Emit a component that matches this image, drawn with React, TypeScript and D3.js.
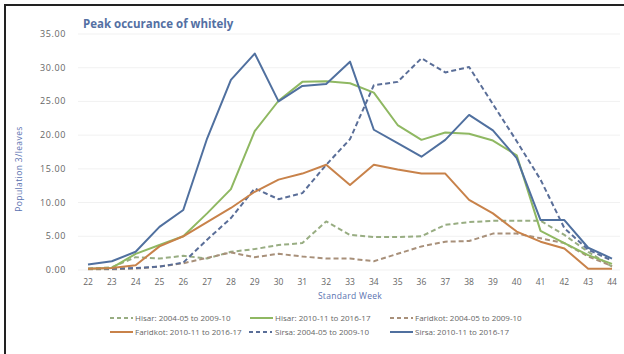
import React from "react";
import * as d3 from "d3";

const weeks = [22,23,24,25,26,27,28,29,30,31,32,33,34,35,36,37,38,39,40,41,42,43,44];
const yTicks = [0,5,10,15,20,25,30,35];

const hisarOld = [0.2,0.4,1.9,1.7,2.1,1.7,2.7,3.1,3.7,4.0,7.2,5.2,4.9,4.9,5.0,6.7,7.1,7.3,7.3,7.3,5.2,2.7,0.5];
const hisarNew = [0.2,0.3,2.4,3.7,5.0,8.4,12.0,20.6,25.1,27.9,28.0,27.7,26.3,21.5,19.3,20.4,20.2,19.2,17.0,5.8,4.0,2.2,0.9];
const faridOld = [0.1,0.1,0.2,0.5,1.0,1.8,2.6,1.9,2.4,2.0,1.7,1.7,1.3,2.4,3.5,4.2,4.3,5.4,5.4,4.7,4.0,2.0,0.6];
const faridNew = [0.2,0.3,0.7,3.5,5.0,7.1,9.2,11.6,13.4,14.3,15.6,12.6,15.6,14.9,14.3,14.3,10.4,8.4,5.7,4.2,3.2,0.2,0.2];
const sirsaOld = [0.2,0.2,0.3,0.5,1.1,4.5,7.7,12.1,10.5,11.4,15.6,19.4,27.4,27.9,31.4,29.3,30.1,24.6,19.1,13.4,6.2,3.0,1.4];
const sirsaNew = [0.8,1.3,2.7,6.4,8.9,19.5,28.2,32.1,25.0,27.3,27.6,30.9,20.8,18.8,16.8,19.3,23.0,20.7,16.6,7.4,7.4,3.3,1.7];

const seriesNames = [
  "Hisar: 2004-05 to 2009-10",
  "Hisar: 2010-11 to 2016-17",
  "Faridkot: 2004-05 to 2009-10",
  "Faridkot: 2010-11 to 2016-17",
  "Sirsa: 2004-05 to 2009-10",
  "Sirsa: 2010-11 to 2016-17",
];
const seriesValues = [hisarOld, hisarNew, faridOld, faridNew, sirsaOld, sirsaNew];
const seriesColors = ["#98ad82", "#8fb862", "#a8907a", "#c8824a", "#5a6e98", "#50709f"];
const seriesDashed = [true, false, true, false, true, false];

const legendPos = [
  { lx: 110, tx: 135, y: 321 },
  { lx: 250, tx: 275, y: 321 },
  { lx: 390, tx: 415, y: 321 },
  { lx: 110, tx: 135, y: 335 },
  { lx: 249, tx: 275, y: 335 },
  { lx: 390, tx: 415, y: 335 },
];

export default function App() {
  const W = 624, H = 354;
  const x = d3.scalePoint<number>().domain(weeks).range([88, 612]);
  const y = d3.scaleLinear().domain([0, 35]).range([270, 34]);
  const line = d3.line<number>().x((_, i) => x(weeks[i]) as number).y((v) => y(v));
  const font = "'Open Sans', 'Liberation Sans', sans-serif";
  const order = [0, 2, 4, 1, 3, 5];
  return (
    <div style={{ position: "absolute", left: 0, top: 0 }}>
      <svg width={W} height={H} style={{ display: "block", background: "#fff" }} fontFamily={font}>
        <rect x={0} y={0} width={W} height={H} fill="#fff" />
        <line x1={4} y1={5} x2={W} y2={5} stroke="#222" strokeWidth={2} />
        <line x1={5} y1={4} x2={5} y2={H} stroke="#222" strokeWidth={2} />
        {yTicks.map((t) => (
          <g key={t}>
            <line x1={78} x2={620} y1={y(t)} y2={y(t)} stroke="#f1f1f1" strokeWidth={1} />
            <text x={66} y={y(t) + 3} textAnchor="end" fontSize={9} letterSpacing={0.6} fill="#666">{t.toFixed(2)}</text>
          </g>
        ))}
        {weeks.map((w) => (
          <text key={w} x={x(w)} y={285} textAnchor="middle" fontSize={8.5} fill="#666">{w}</text>
        ))}
        <text x={83} y={28} fontSize={11.5} fontWeight="bold" fill="#5470a3">Peak occurance of whitely</text>
        <text x={350} y={299} textAnchor="middle" fontSize={8.5} letterSpacing={0.3} fill="#5a72b0">Standard Week</text>
        <text transform="translate(22,169) rotate(-90)" textAnchor="middle" fontSize={8.5} letterSpacing={0.4} fill="#5a72b0">Population 3/leaves</text>
        {order.map((i) => (
          <path key={i} d={line(seriesValues[i]) || ""} fill="none" stroke={seriesColors[i]}
            strokeWidth={2} strokeDasharray={seriesDashed[i] ? "5,3" : undefined} strokeLinejoin="round" />
        ))}
        {seriesNames.map((n, i) => (
          <g key={n}>
            <line x1={legendPos[i].lx} x2={legendPos[i].lx + 23} y1={legendPos[i].y - 3} y2={legendPos[i].y - 3}
              stroke={seriesColors[i]} strokeWidth={2} strokeDasharray={seriesDashed[i] ? "4,3" : undefined} />
            <text x={legendPos[i].tx} y={legendPos[i].y} fontSize={8} fill="#666">{n}</text>
          </g>
        ))}
      </svg>
    </div>
  );
}
